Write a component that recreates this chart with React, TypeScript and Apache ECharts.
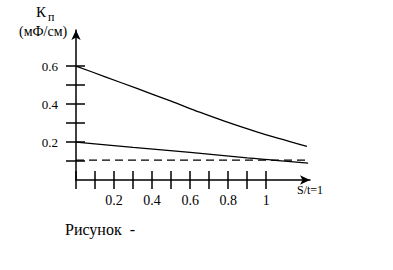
import React, { useEffect, useRef } from "react";
import * as echarts from "echarts";

const upperX = [0, 0.15, 0.32, 0.5, 0.65, 0.78, 0.95, 1.214];
const upperY = [0.6, 0.545, 0.482, 0.415, 0.357, 0.31, 0.254, 0.177];
const middleX = [0, 0.3, 0.6, 0.9, 1.03, 1.22];
const middleY = [0.2, 0.172, 0.146, 0.116, 0.105, 0.089];
const dashedX = [0, 1.22];
const dashedY = [0.105, 0.105];
const xTicks = [0, 0.1, 0.2, 0.3, 0.4, 0.5, 0.6, 0.7, 0.8, 0.9, 1.0];
const xLabels = [0.2, 0.4, 0.6, 0.8, 1.0];
const yTicks = [0.1, 0.2, 0.3, 0.4, 0.5, 0.6];
const yLabels = [0.2, 0.4, 0.6];

const FONT = "serif";

const zip = (xs: number[], ys: number[]) => xs.map((x, i) => [x, ys[i]]);

export default function App() {
  const ref = useRef<HTMLDivElement>(null);
  useEffect(() => {
    if (!ref.current) return;
    const chart = echarts.init(ref.current, null, { renderer: "svg" });
    const axisLineStyle = { color: "#000", width: 1.5 };
    const yBase = {
      type: "value",
      min: 0,
      max: 0.79,
      position: "left",
      splitLine: { show: false },
    };
    const xBase = {
      type: "value",
      min: 0,
      max: 1.23,
      position: "bottom",
      splitLine: { show: false },
    };
    const ttl = (text: string, left: number, top: number, size: number) => ({
      text,
      left,
      top,
      padding: 0,
      textStyle: { fontFamily: FONT, fontSize: size, fontWeight: "normal", color: "#000" },
    });
    chart.setOption({
      animation: false,
      backgroundColor: "#fff",
      textStyle: { fontFamily: FONT },
      title: [
        ttl("К", 36, 4, 15),
        ttl("п", 48, 11, 12),
        ttl("(мФ/см)", 19, 24, 14),
        ttl("S/t=1", 297, 184, 12),
        ttl("Рисунок  -", 65, 221, 16),
      ],
      grid: { left: 76, top: 30, width: 234, height: 150 },
      xAxis: [
        {
          ...xBase,
          axisLine: { show: true, lineStyle: axisLineStyle, symbol: ["none", "arrow"], symbolSize: [7, 10] },
          axisTick: { show: true, inside: false, length: 9, customValues: xTicks, lineStyle: { color: "#000", width: 1.5 } },
          axisLabel: {
            show: true,
            customValues: xLabels,
            margin: 13,
            color: "#000",
            fontFamily: FONT,
            fontSize: 14,
            formatter: (v: number) => (Math.abs(v - 1) < 1e-9 ? "1" : v.toFixed(1)),
          },
        },
        {
          ...xBase,
          axisLine: { show: false },
          axisTick: { show: true, inside: true, length: 9, customValues: xTicks, lineStyle: { color: "#000", width: 1.5 } },
          axisLabel: { show: false },
        },
      ],
      yAxis: [
        {
          ...yBase,
          axisLine: { show: true, lineStyle: axisLineStyle, symbol: ["none", "arrow"], symbolSize: [7, 10] },
          axisTick: { show: true, inside: false, length: 10, customValues: yTicks, lineStyle: { color: "#000", width: 1.5 } },
          axisLabel: {
            show: true,
            customValues: yLabels,
            margin: 18,
            color: "#000",
            fontFamily: FONT,
            fontSize: 13,
            formatter: (v: number) => v.toFixed(1),
          },
        },
        {
          ...yBase,
          axisLine: { show: false },
          axisTick: { show: true, inside: true, length: 9, customValues: yTicks, lineStyle: { color: "#000", width: 1.5 } },
          axisLabel: { show: false },
        },
      ],
      series: [
        {
          type: "line",
          data: zip(upperX, upperY),
          smooth: 0.3,
          symbol: "none",
          lineStyle: { color: "#000", width: 1.3 },
        },
        {
          type: "line",
          data: zip(middleX, middleY),
          smooth: 0.3,
          symbol: "none",
          lineStyle: { color: "#000", width: 1.3 },
        },
        {
          type: "line",
          data: zip(dashedX, dashedY),
          symbol: "none",
          lineStyle: { color: "#000", width: 1.2, type: [8, 5] },
        },
      ],
    });
    return () => chart.dispose();
  }, []);
  return (
    <div
      ref={ref}
      style={{ position: "absolute", left: 0, top: 0, width: 393, height: 270 }}
    />
  );
}
